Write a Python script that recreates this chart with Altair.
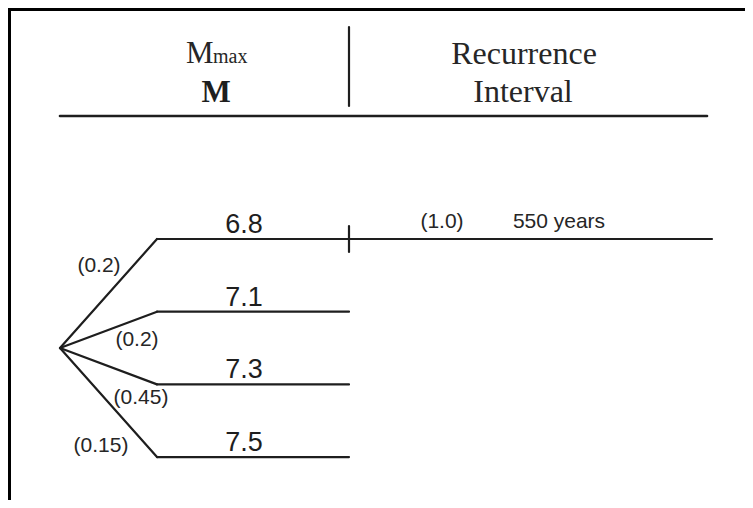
import altair as alt
import pandas as pd

# ---- values ----
magnitudes = ["6.8", "7.1", "7.3", "7.5"]
branch_weights = ["(0.2)", "(0.2)", "(0.45)", "(0.15)"]
rec_weight = "(1.0)"
rec_interval = "550 years"
header_left_main = "M"
header_left_sub = "max"
header_left_bold = "M"
header_right = ["Recurrence", "Interval"]

# ---- layout of the logic tree (diagram coordinates, page pixels) ----
X_ROOT, X_NODE, X_STAGE, X_END = 60, 157, 349, 712
Y_ROW0, Y_STEP = 239, 72.7
Y_ROOT = Y_ROW0 + 1.5 * Y_STEP
W_LABEL_POS = [(99, 272), (137, 346), (141, 404), (101, 452)]
INK = "#1e1e1e"
TXT = "#262626"

rows = [Y_ROW0 + i * Y_STEP for i in range(len(magnitudes))]

segs = []
for i, y in enumerate(rows):
    segs.append(dict(x=X_ROOT, y=Y_ROOT, x2=X_NODE, y2=y, w=2.2))
    segs.append(dict(x=X_NODE, y=y, x2=X_STAGE, y2=y, w=2.2))
segs.append(dict(x=X_STAGE, y=rows[0], x2=X_END, y2=rows[0], w=2.2))
segs.append(dict(x=X_STAGE, y=rows[0] - 13, x2=X_STAGE, y2=rows[0] + 13, w=2.2))
# header rule and divider
segs.append(dict(x=60, y=116, x2=707, y2=116, w=2.6))
segs.append(dict(x=349, y=27, x2=349, y2=106, w=2.2))
seg_df = pd.DataFrame(segs)

border_df = pd.DataFrame([
    dict(x=9.5, y=8, x2=9.5, y2=500, w=3),
    dict(x=8, y=9.5, x2=745, y2=9.5, w=3),
])

xs = alt.Scale(domain=[8, 745])
ys = alt.Scale(domain=[500, 8])


def X(f="x"):
    return alt.X(f"{f}:Q", scale=xs, axis=None)


def Y(f="y"):
    return alt.Y(f"{f}:Q", scale=ys, axis=None)


lines = alt.Chart(seg_df).mark_rule(color=INK, strokeCap="round").encode(
    x=X(), y=Y(), x2="x2:Q", y2="y2:Q",
    strokeWidth=alt.StrokeWidth("w:Q", scale=None),
)
borders = alt.Chart(border_df).mark_rule(color="black").encode(
    x=X(), y=Y(), x2="x2:Q", y2="y2:Q",
    strokeWidth=alt.StrokeWidth("w:Q", scale=None),
)

mag_df = pd.DataFrame(dict(t=magnitudes, x=[244] * 4, y=[r - 6 for r in rows]))
mag_text = alt.Chart(mag_df).mark_text(
    font="Liberation Sans", fontSize=27, color=INK, align="center", baseline="alphabetic"
).encode(x=X(), y=Y(), text="t:N")

wt_df = pd.DataFrame(dict(t=branch_weights,
                          x=[p[0] for p in W_LABEL_POS],
                          y=[p[1] for p in W_LABEL_POS]))
wt_text = alt.Chart(wt_df).mark_text(
    font="Liberation Sans", fontSize=21, color=TXT, align="center", baseline="alphabetic"
).encode(x=X(), y=Y(), text="t:N")

rec_df = pd.DataFrame(dict(t=[rec_weight, rec_interval], x=[442, 559], y=[228, 228]))
rec_text = alt.Chart(rec_df).mark_text(
    font="Liberation Sans", fontSize=21, color=TXT, align="center", baseline="alphabetic"
).encode(x=X(), y=Y(), text="t:N")

hdr_main = alt.Chart(pd.DataFrame(dict(t=[header_left_main], x=[186], y=[63]))).mark_text(
    font="Liberation Serif", fontSize=31, color=TXT, align="left", baseline="alphabetic"
).encode(x=X(), y=Y(), text="t:N")
hdr_sub = alt.Chart(pd.DataFrame(dict(t=[header_left_sub], x=[213], y=[63]))).mark_text(
    font="Liberation Serif", fontSize=20, color=TXT, align="left", baseline="alphabetic"
).encode(x=X(), y=Y(), text="t:N")
hdr_bold = alt.Chart(pd.DataFrame(dict(t=[header_left_bold], x=[216], y=[102]))).mark_text(
    font="Liberation Serif", fontSize=31, fontWeight="bold", color=INK,
    align="center", baseline="alphabetic"
).encode(x=X(), y=Y(), text="t:N")
hdr_right = alt.Chart(pd.DataFrame(dict(t=header_right, x=[524, 523], y=[64, 102]))).mark_text(
    font="Liberation Serif", fontSize=32, color=TXT, align="center", baseline="alphabetic"
).encode(x=X(), y=Y(), text="t:N")

chart = alt.layer(
    borders, lines, mag_text, wt_text, rec_text, hdr_main, hdr_sub, hdr_bold, hdr_right
).properties(
    width=737, height=492, padding=0, autosize=alt.AutoSizeParams(type="none")
).configure_view(stroke=None).configure(background="white")

chart.save("out.html", embed_options={"renderer": "svg", "actions": False})
